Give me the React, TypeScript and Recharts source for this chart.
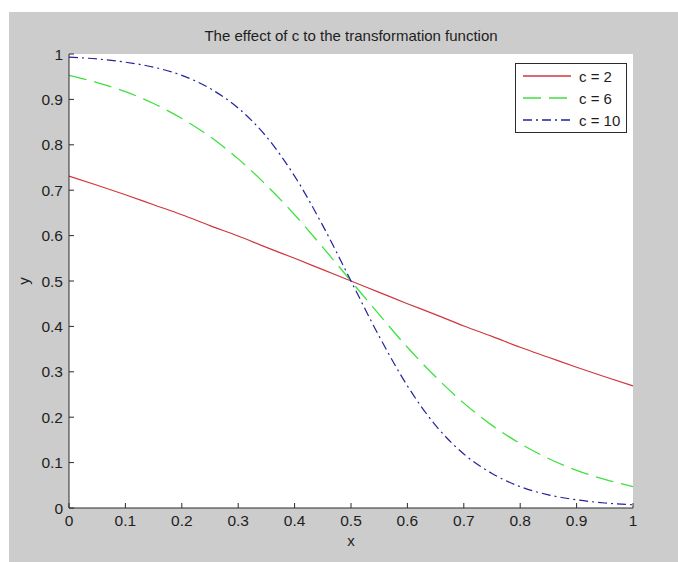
import { LineChart, Line, XAxis, YAxis, Legend } from 'recharts';

// sample positions along x
const xs = [0, 0.05, 0.1, 0.15, 0.2, 0.25, 0.3, 0.35, 0.4, 0.45, 0.5, 0.55, 0.6, 0.65, 0.7, 0.75, 0.8, 0.85, 0.9, 0.95, 1];

// values
const c2 = [0.731, 0.711, 0.69, 0.668, 0.646, 0.622, 0.599, 0.574, 0.55, 0.525, 0.5, 0.475, 0.45, 0.426, 0.401, 0.378, 0.354, 0.332, 0.31, 0.289, 0.269];
const c6 = [0.953, 0.937, 0.917, 0.891, 0.858, 0.818, 0.769, 0.711, 0.646, 0.574, 0.5, 0.426, 0.354, 0.289, 0.231, 0.182, 0.142, 0.109, 0.083, 0.063, 0.047];
const c10 = [0.993, 0.989, 0.982, 0.971, 0.953, 0.924, 0.881, 0.818, 0.731, 0.622, 0.5, 0.378, 0.269, 0.182, 0.119, 0.076, 0.047, 0.029, 0.018, 0.011, 0.007];

const seriesNames = ['c = 2', 'c = 6', 'c = 10'];
const xTicks = [0, 0.1, 0.2, 0.3, 0.4, 0.5, 0.6, 0.7, 0.8, 0.9, 1];
const yTicks = [0, 0.1, 0.2, 0.3, 0.4, 0.5, 0.6, 0.7, 0.8, 0.9, 1];

const data = xs.map((x, i) => ({ x, c2: c2[i], c6: c6[i], c10: c10[i] }));

const font = '"Liberation Sans", Arial, sans-serif';
const axisColor = '#2b2b2b';
const textColor = '#1e1e1e';
const tickStyle = { fill: textColor, fontSize: 15.5, fontFamily: font };

function LegendBox(props: any) {
  const items = [...(props.payload || [])].sort(
    (a: any, b: any) => seriesNames.indexOf(a.value) - seriesNames.indexOf(b.value)
  );
  return (
    <div
      style={{
        width: 110,
        height: 67,
        background: '#fff',
        border: `1px solid ${axisColor}`,
        fontFamily: font,
        fontSize: 15,
        color: textColor,
        paddingTop: 1,
        boxSizing: 'content-box',
      }}
    >
      {items.map((it: any, i: number) => (
        <div key={i} style={{ height: 22, display: 'flex', alignItems: 'center' }}>
          <svg width={56} height={10} style={{ marginLeft: 7 }}>
            <line
              x1={0}
              y1={5}
              x2={48}
              y2={5}
              stroke={it.color}
              strokeWidth={1.3}
              strokeDasharray={it.payload?.strokeDasharray}
            />
          </svg>
          <span style={{ marginLeft: 0 }}>{it.value}</span>
        </div>
      ))}
    </div>
  );
}

export default function App() {
  return (
    <div style={{ position: 'absolute', left: 0, top: 0, width: 678, height: 562, background: '#fff' }}>
      <div style={{ position: 'absolute', left: 9, top: 12, width: 669, height: 550, background: '#cccccc' }} />
      <div
        style={{
          position: 'absolute',
          left: 69,
          width: 564,
          top: 27,
          textAlign: 'center',
          fontFamily: font,
          fontSize: 15,
          color: textColor,
        }}
      >
        The effect of c to the transformation function
      </div>
      <div
        style={{
          position: 'absolute',
          left: 69,
          width: 564,
          top: 532,
          textAlign: 'center',
          fontFamily: font,
          fontSize: 15,
          color: textColor,
        }}
      >
        x
      </div>
      <div
        style={{
          position: 'absolute',
          left: 16,
          top: 271,
          width: 18,
          height: 20,
          textAlign: 'center',
          transform: 'rotate(-90deg)',
          fontFamily: font,
          fontSize: 15,
          color: textColor,
        }}
      >
        y
      </div>
      <div style={{ position: 'absolute', left: 0, top: 0 }}>
        <LineChart width={678} height={562} data={data} margin={{ top: 54, right: 45, bottom: 24, left: 29 }}>
          <rect x={69} y={54} width={564} height={454} fill="#fff" />
          <XAxis
            dataKey="x"
            type="number"
            domain={[0, 1]}
            ticks={xTicks}
            height={30}
            stroke={axisColor}
            tickSize={-5}
            tickMargin={12}
            tick={tickStyle}
            interval={0}
          />
          <XAxis
            xAxisId="top"
            orientation="top"
            dataKey="x"
            type="number"
            domain={[0, 1]}
            ticks={xTicks}
            height={0}
            stroke={axisColor}
            tickSize={-5}
            tick={false as any}
            interval={0}
          />
          <YAxis
            type="number"
            domain={[0, 1]}
            ticks={yTicks}
            width={40}
            stroke={axisColor}
            tickSize={-5}
            tickMargin={11}
            tick={tickStyle}
            interval={0}
          />
          <YAxis
            yAxisId="right"
            orientation="right"
            type="number"
            domain={[0, 1]}
            ticks={yTicks}
            width={0}
            stroke={axisColor}
            tickSize={-5}
            tick={false as any}
            interval={0}
          />
          <Legend
            layout="vertical"
            align="center"
            verticalAlign="middle"
            content={<LegendBox />}
            wrapperStyle={{ position: 'absolute', left: 515, top: 63, width: 112, height: 69 }}
          />
          <Line
            type="monotone"
            dataKey="c2"
            name={seriesNames[0]}
            stroke="#d0373c"
            strokeWidth={1.2}
            dot={false}
            isAnimationActive={false}
          />
          <Line
            type="monotone"
            dataKey="c6"
            name={seriesNames[1]}
            stroke="#3fe03f"
            strokeWidth={1.3}
            strokeDasharray="18 8"
            dot={false}
            isAnimationActive={false}
          />
          <Line
            type="monotone"
            dataKey="c10"
            name={seriesNames[2]}
            stroke="#23239a"
            strokeWidth={1.2}
            strokeDasharray="9 4 2 4"
            dot={false}
            isAnimationActive={false}
          />
        </LineChart>
      </div>
    </div>
  );
}
